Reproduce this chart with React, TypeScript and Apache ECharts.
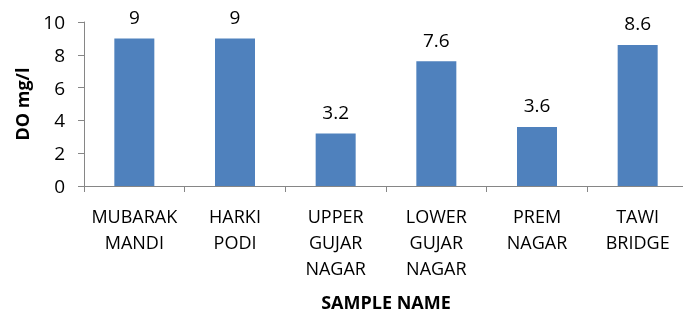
import React, { useEffect, useRef } from "react";
import * as echarts from "echarts";

const categories = [
  "MUBARAK\nMANDI",
  "HARKI\nPODI",
  "UPPER\nGUJAR\nNAGAR",
  "LOWER\nGUJAR\nNAGAR",
  "PREM\nNAGAR",
  "TAWI\nBRIDGE",
];
const doValues = [9, 9, 3.2, 7.6, 3.6, 8.6];
const yTicks = { min: 0, max: 10, interval: 2 };

const FONT = "'Open Sans', sans-serif";

export default function App() {
  const ref = useRef<HTMLDivElement>(null);
  useEffect(() => {
    if (!ref.current) return;
    const chart = echarts.init(ref.current, null, { renderer: "svg" });
    chart.setOption({
      animation: false,
      grid: {
        left: 84,
        right: -5,
        top: 22,
        bottom: 127,
        containLabel: false,
        outerBoundsMode: "none",
      },
      xAxis: {
        type: "category",
        data: categories,
        name: "SAMPLE NAME",
        nameLocation: "middle",
        nameGap: 107,
        nameTextStyle: {
          fontFamily: FONT,
          fontWeight: "bold",
          fontSize: 18,
          lineHeight: 18,
          color: "#000",
        },
        axisLine: { show: true, lineStyle: { color: "#868686", width: 1 } },
        axisTick: { show: true, alignWithLabel: false, length: 6, lineStyle: { color: "#868686" } },
        axisLabel: {
          interval: 0,
          margin: 17,
          fontFamily: FONT,
          fontSize: 18,
          lineHeight: 26,
          color: "#000",
        },
      },
      yAxis: {
        type: "value",
        min: yTicks.min,
        max: yTicks.max,
        interval: yTicks.interval,
        name: "DO mg/l",
        nameLocation: "middle",
        nameGap: 53,
        nameRotate: 90,
        nameTextStyle: { fontFamily: FONT, fontWeight: "bold", fontSize: 18, color: "#000" },
        axisLine: { show: true, lineStyle: { color: "#868686", width: 1 } },
        axisTick: { show: true, length: 6, lineStyle: { color: "#868686" } },
        splitLine: { show: false },
        axisLabel: { margin: 19, fontFamily: FONT, fontSize: 19, color: "#000" },
      },
      series: [
        {
          type: "bar",
          data: doValues,
          barWidth: 40,
          itemStyle: { color: "#4f81bd" },
          label: {
            show: true,
            position: "top",
            distance: 12,
            fontFamily: FONT,
            fontSize: 19,
            color: "#000",
          },
        },
      ],
    });
    return () => chart.dispose();
  }, []);
  return <div ref={ref} style={{ width: 683, height: 313, position: "fixed", left: 0, top: 0 }} />;
}
